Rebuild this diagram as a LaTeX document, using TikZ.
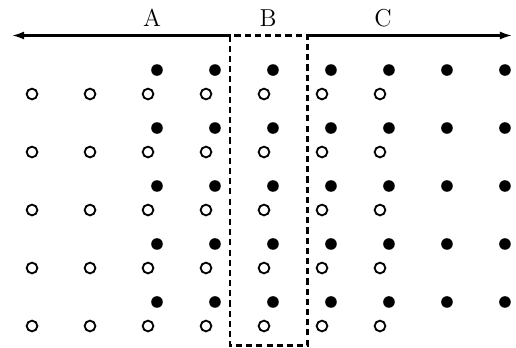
\documentclass[tikz,border=0pt]{standalone}
\usepackage{tikz}
\usetikzlibrary{
    arrows.meta,
    positioning
}
\tikzstyle{arrow} = [
    line width=1pt,
    -{Latex[length=6pt, width=4pt]}
]
\tikzstyle{leer} = [circle, draw, line width=0.9pt, inner sep=0pt, minimum size=0.185cm]
\tikzstyle{voll} = [circle, fill, inner sep=0pt, minimum size=0.2cm]

\begin{document}
\begin{tikzpicture}[x=1cm, y=1cm]

\useasboundingbox (0,0) rectangle (8.897,-6);

% Punkte (leer und voll)
\foreach \i in {0,...,6} {
    \foreach \j in {0,...,4} {
        \node[leer] (o-\i-\j) at ({0.552+\i}, {-1.621-\j}) {};
        \node[voll] (f-\i-\j) at ({2.707+\i}, {-1.207-\j}) {};
    }
}

% Rahmen um B
\coordinate (obenlinks) at (3.966,-0.612);
\coordinate (untenrechts) at (5.302,-5.957);
\draw[line width=1pt, dash pattern=on 3pt off 2pt] (obenlinks) rectangle (untenrechts);

% Pfeile
\coordinate (links) at (0.207,-0.612);
\coordinate (rechts) at (8.828,-0.612);
\draw[arrow] (obenlinks) -- (links);
\draw[arrow] (obenlinks -| untenrechts) -- (rechts);

% Beschriftung
\node[font=\large] (A) at (2.621,-0.31) {A};
\node[font=\large] (B) at (4.621,-0.31) {B};
\node[font=\large] (C) at (6.603,-0.31) {C};

\end{tikzpicture}
\end{document}
